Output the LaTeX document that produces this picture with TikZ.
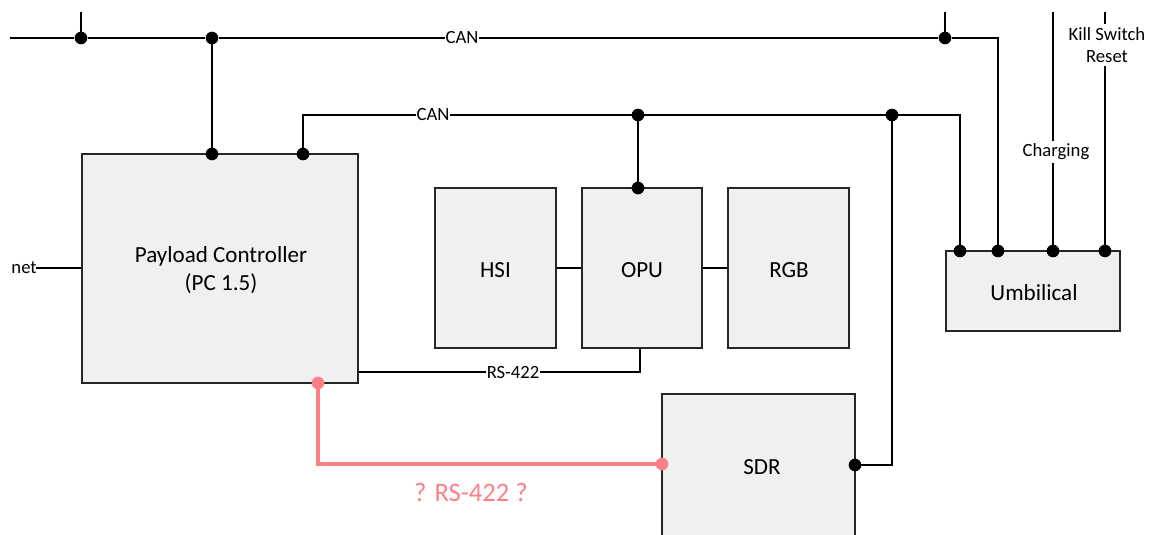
\documentclass[tikz,border=0pt]{standalone}
\usepackage{fontspec}
\setmainfont{Carlito}
\definecolor{boxfill}{HTML}{F0F0F0}
\definecolor{pinkline}{HTML}{FF7F86}
\tikzset{
  blk/.style={draw=black!85, line width=1.5pt, fill=boxfill, inner sep=0pt},
  bus/.style={line width=2.2pt, line join=miter},
  thin/.style={line width=0.9pt},
  dot/.style={circle, fill=black, inner sep=0pt, minimum size=9.5pt},
  pdot/.style={circle, fill=pinkline, inner sep=0pt, minimum size=9.5pt},
  lbl/.style={font=\fontsize{14}{16}\selectfont, fill=white, inner sep=0.5pt},
  big/.style={font=\fontsize{17.3}{21}\selectfont, align=center},
}
\begin{document}
\begin{tikzpicture}[x=0.75pt,y=-0.75pt]
\useasboundingbox (0,0) rectangle (1153,535);
% boxes
\node[blk, minimum width=276*0.75pt, minimum height=229*0.75pt] (pc) at (220,268.5) {};
\node[big] at (221,270) {Payload Controller\\(PC 1.5)};
\node[blk, minimum width=121*0.75pt, minimum height=160*0.75pt] (hsi) at (495.5,268) {};
\node[big] at (495.5,270) {HSI};
\node[blk, minimum width=120*0.75pt, minimum height=160*0.75pt] (opu) at (642,268) {};
\node[big] at (642,270) {OPU};
\node[blk, minimum width=121*0.75pt, minimum height=160*0.75pt] (rgb) at (788.5,268) {};
\node[big] at (789,270) {RGB};
\node[blk, minimum width=174*0.75pt, minimum height=80*0.75pt] (umb) at (1033,291) {};
\node[big] at (1034,293) {Umbilical};
\node[blk, minimum width=193*0.75pt, minimum height=160*0.75pt] (sdr) at (758.5,474) {};
\node[big] at (762,467) {SDR};

% coordinates
\coordinate (t1) at (81,12);
\coordinate (t2) at (945,12);
\coordinate (left) at (10,38);
\coordinate (tc) at (998,38);
\node[dot] (d1) at (81,38) {};
\node[dot] (d2) at (212,38) {};
\node[dot] (d3) at (945,38) {};
\node[dot] (p1) at (212,154) {};
\node[dot] (p2) at (303,154) {};
\node[dot] (c1) at (638,115) {};
\node[dot] (c2) at (892,115) {};
\node[dot] (o1) at (638,188) {};
\node[dot] (u1) at (960,251) {};
\node[dot] (u2) at (998,251) {};
\node[dot] (u3) at (1053,251) {};
\node[dot] (u4) at (1105,251) {};
\node[dot] (s1) at (855,465) {};

% top CAN bus
\draw[bus] (left) -- (d1) -- (d2) -- (d3) -- (tc) -- (u2.center);
\draw[bus] (t1) -- (d1.center);
\draw[bus] (t2) -- (d3.center);
\draw[bus] (d2.center) -- (p1.center);
\node[lbl] at (462,38) {CAN};

% second CAN bus
\draw[bus] (p2.center) -- (303,115) -- (c1.center) -- (c2.center) -- (960,115) -- (u1.center);
\draw[bus] (c1.center) -- (o1.center);
\draw[bus] (c2.center) -- (892,465) -- (s1.center);
\node[lbl] at (433,115) {CAN};

% charging & kill switch
\coordinate (ch) at (1053,12);
\coordinate (ks) at (1105,12);
\draw[bus] (ch) -- (u3.center);
\draw[bus] (ks) -- (u4.center);
\node[lbl, inner sep=2pt] at (1056,152) {Charging};
\node[lbl, align=center, inner sep=2pt, font=\fontsize{14}{17}\selectfont] at (1107,45) {Kill Switch\\Reset};

% thin connections
\draw[thin] (hsi.east |- 0,268) -- (opu.west |- 0,268);
\draw[thin] (opu.east |- 0,268) -- (rgb.west |- 0,268);
\coordinate (netend) at (36,268);
\draw[thin] (netend) -- (pc.west |- netend);
\node[anchor=east, inner sep=0pt, font=\fontsize{14}{16}\selectfont] at (37,268) {net};
\draw[thin] (pc.east |- 0,372) -- (640,372) -- (opu.south -| 640,0);
\node[lbl] at (513,373) {RS-422};

% pink link
\node[pdot] (k1) at (318,383) {};
\node[pdot] (k2) at (662,464) {};
\draw[pinkline, line width=3pt] (k1.center) -- (318,464) -- (k2.center);
\node[text=pinkline, font=\fontsize{20}{23}\selectfont] at (471,492) {? RS-422 ?};
\end{tikzpicture}
\end{document}
